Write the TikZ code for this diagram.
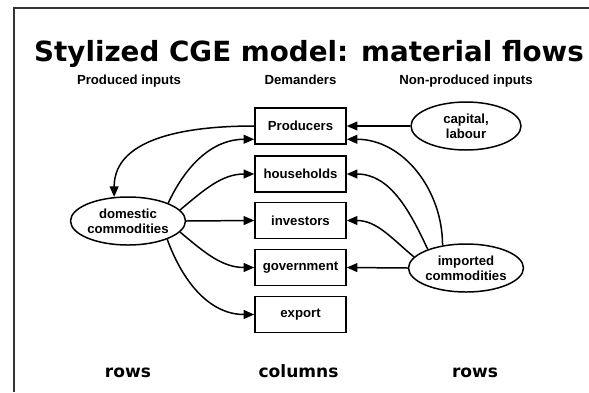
\documentclass[tikz,border=0pt]{standalone}
\usepackage{fontspec}
\setmainfont{Liberation Sans}
\newfontfamily\wide{DejaVu Sans}
\usetikzlibrary{shapes.geometric,arrows.meta}

\begin{document}
\begin{tikzpicture}[line width=0.85pt,
  every node/.style={font=\bfseries\fontsize{7.5pt}{8.5pt}\selectfont, align=center},
  demander/.style={draw, rectangle, minimum width=1.82cm, minimum height=0.72cm},
  input/.style={draw, ellipse, minimum width=2.2cm, minimum height=0.96cm, inner sep=0pt},
  heading/.style={anchor=base},
  bottom/.style={anchor=base, font=\wide\bfseries\fontsize{9.7pt}{11pt}\selectfont},
  flow/.style={-{Triangle[length=6pt,width=5pt]}}]
  \useasboundingbox (0,0) rectangle (11.78,7.84);
  \draw[line width=1.2pt, black!80] (0.28,0) -- (0.28,7.68) -- (11.78,7.68);

  \node[anchor=base, font=\wide\bfseries\fontsize{15.8pt}{18pt}\selectfont] (title) at (6.18,6.62) {Stylized CGE model: material flows};
  \node[heading] (hprod) at (2.58,6.16) {Produced inputs};
  \node[heading] (hdem) at (6.01,6.16) {Demanders};
  \node[heading] (hnon) at (9.32,6.16) {Non-produced inputs};

  \node[demander] (prod) at (6.01,5.32) {Producers};
  \node[demander] (hh) at (6.01,4.36) {households};
  \node[demander] (inv) at (6.01,3.43) {investors};
  \node[demander] (gov) at (6.01,2.49) {government};
  \node[demander] (exp) at (6.01,1.55) {export};

  \node[input] (dom) at (2.56,3.42) {domestic\\commodities};
  \node[input] (cap) at (9.32,5.32) {capital,\\labour};
  \node[input] (imp) at (9.32,2.48) {imported\\commodities};

  \node[bottom] (rowsl) at (2.56,0.3) {rows};
  \node[bottom] (cols) at (5.97,0.3) {columns};
  \node[bottom] (rowsr) at (9.5,0.3) {rows};

  \draw[flow] (prod.west) to[out=180, in=90] (dom.120);
  \draw[flow] (dom.24) to[out=65, in=180] (prod.196);
  \draw[flow] (dom.12) to[out=40, in=180] (hh.west);
  \draw[flow] (dom.east) -- (inv.west);
  \draw[flow] (dom.-12) to[out=-40, in=180] (gov.west);
  \draw[flow] (dom.-25) to[out=-70, in=180] (exp.west);

  \draw[flow] (cap.west) -- (prod.east);
  \draw[flow] (imp.136) to[out=90, in=0] (prod.-16);
  \draw[flow] (imp.154) to[out=115, in=0] (hh.east);
  \draw[flow] (imp.168) to[out=140, in=0] (inv.east);
  \draw[flow] (imp.west) -- (gov.east);
\end{tikzpicture}
\end{document}
